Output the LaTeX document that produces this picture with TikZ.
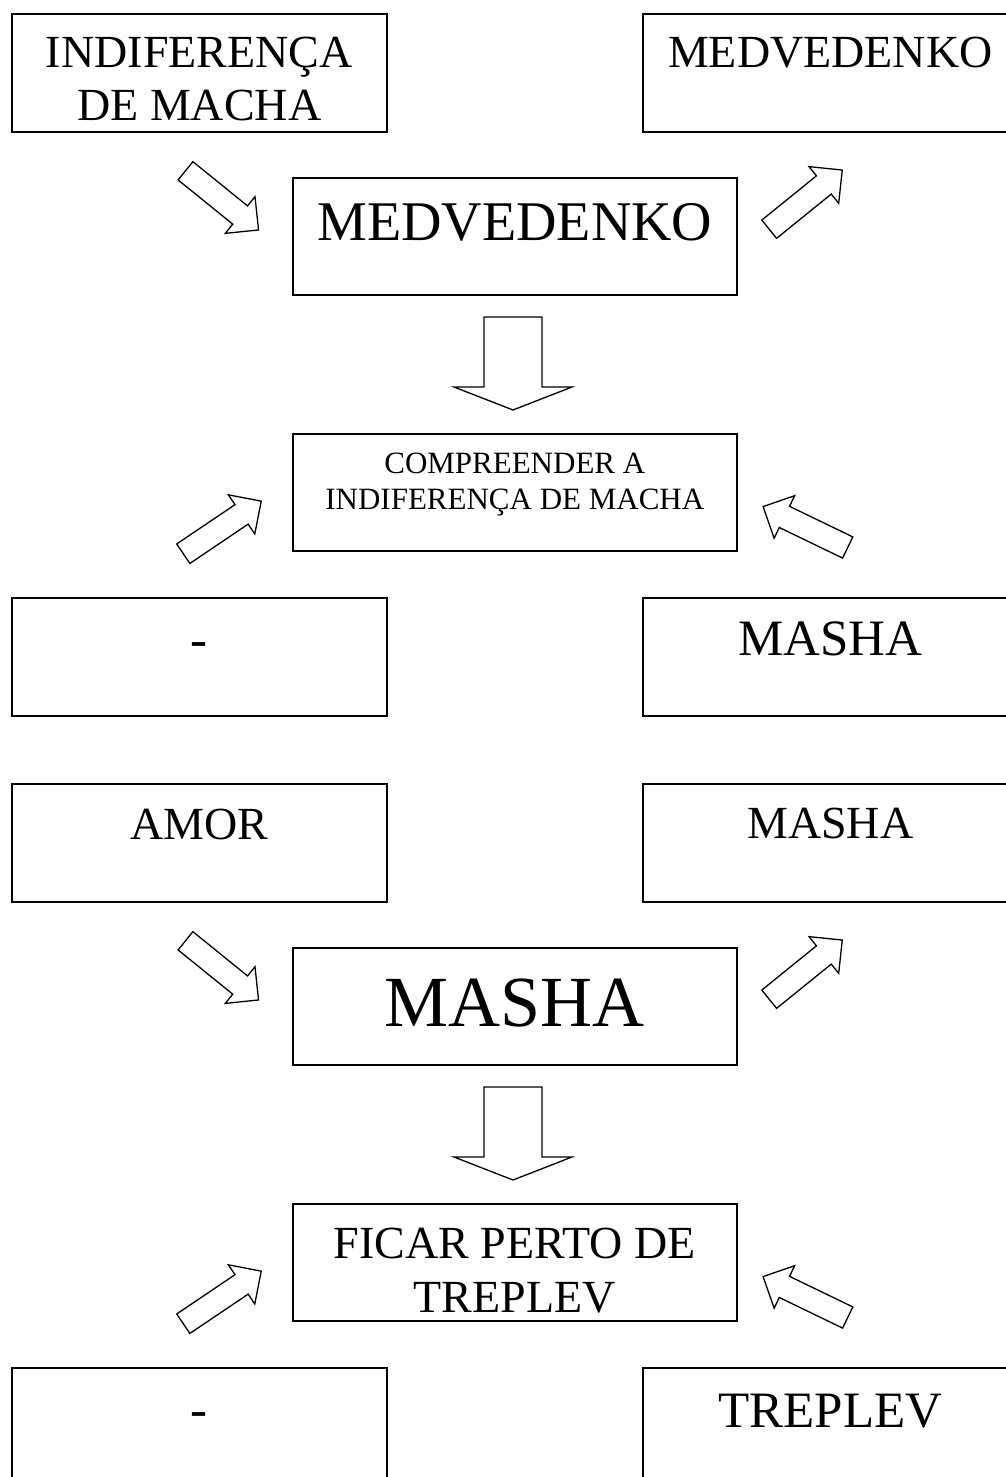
\documentclass[tikz,border=0pt]{standalone}
\usepackage{fontspec}
\setmainfont{Liberation Serif}
\newcommand\fsz[1]{\fontsize{#1}{#1}\selectfont}
\tikzset{
  box/.style={draw, line width=1.6pt, rectangle, inner sep=0pt, anchor=north west},
  sidebox/.style={box, minimum width=375pt, minimum height=118pt},
  midbox/.style={box, minimum width=444pt, minimum height=117pt},
  txt/.style={anchor=base, inner sep=0pt},
  barrowline/.style={draw, line width=1.3pt, line join=miter, fill=white},
}
% #1,#2 tail centre; #3 angle; #4 length; #5 shaft half width; #6 head half width; #7 head length
\newcommand\blockarrow[7]{\draw[barrowline, shift={(#1,#2)}, rotate=#3] (0,-#5) -- ({#4-#7},-#5) -- ({#4-#7},-#6) -- (#4,0) -- ({#4-#7},#6) -- ({#4-#7},#5) -- (0,#5) -- cycle;}
\begin{document}
\begin{tikzpicture}[x=1pt,y=-1pt]
\useasboundingbox[fill=white] (0,0) rectangle (1005,1477);

% ---------- first block ----------
\node[sidebox] (tl1) at (11,13) {};
\node[sidebox] (tr1) at (642,13) {};
\node[midbox]  (c1)  at (292,177) {};
\node[midbox]  (m1)  at (292,433) {};
\node[sidebox] (bl1) at (11,597) {};
\node[sidebox] (br1) at (642,597) {};

\node[txt, font=\fsz{46}] at ([yshift=-55pt]tl1.north) {INDIFERENÇA};
\node[txt, font=\fsz{46}] at ([yshift=-108pt]tl1.north) {DE MACHA};
\node[txt, font=\fsz{46}] at ([yshift=-55pt]tr1.north) {MEDVEDENKO};
\node[txt, font=\fsz{56}] at ([yshift=-63pt]c1.north) {MEDVEDENKO};
\node[txt, font=\fsz{31}] at ([yshift=-40pt]m1.north) {COMPREENDER A};
\node[txt, font=\fsz{31}] at ([yshift=-76pt]m1.north) {INDIFERENÇA DE MACHA};
\node[txt, font=\fsz{51}] at ([yshift=-59pt]bl1.north) {-};
\node[txt, font=\fsz{51}] at ([yshift=-58pt]br1.north) {MASHA};

\blockarrow{185.5}{170.8}{-39}{94}{11.75}{23.6}{23.7}
\blockarrow{769.2}{229.2}{39}{94}{11.75}{23.6}{23.7}
\blockarrow{513}{317}{-90}{93}{29}{59}{23}
\blockarrow{183.3}{553.7}{34}{94}{11.75}{23.6}{23.7}
\blockarrow{847.7}{547.5}{154.2}{94}{11.75}{23.6}{23.7}

% ---------- second block ----------
\node[sidebox] (tl2) at (11,783) {};
\node[sidebox] (tr2) at (642,783) {};
\node[midbox]  (c2)  at (292,947) {};
\node[midbox]  (m2)  at (292,1203) {};
\node[sidebox] (bl2) at (11,1367) {};
\node[sidebox] (br2) at (642,1367) {};

\node[txt, font=\fsz{46}] at ([yshift=-56pt]tl2.north) {AMOR};
\node[txt, font=\fsz{46}] at ([yshift=-55pt]tr2.north) {MASHA};
\node[txt, font=\fsz{72}] at ([yshift=-79pt]c2.north) {MASHA};
\node[txt, font=\fsz{46}] at ([yshift=-55pt]m2.north) {FICAR PERTO DE};
\node[txt, font=\fsz{46}] at ([yshift=-109pt]m2.north) {TREPLEV};
\node[txt, font=\fsz{51}] at ([yshift=-59pt]bl2.north) {-};
\node[txt, font=\fsz{51}] at ([yshift=-60pt]br2.north) {TREPLEV};

\blockarrow{185.5}{940.8}{-39}{94}{11.75}{23.6}{23.7}
\blockarrow{769.2}{999.2}{39}{94}{11.75}{23.6}{23.7}
\blockarrow{513}{1087}{-90}{93}{29}{59}{23}
\blockarrow{183.3}{1323.7}{34}{94}{11.75}{23.6}{23.7}
\blockarrow{847.7}{1317.5}{154.2}{94}{11.75}{23.6}{23.7}
\end{tikzpicture}
\end{document}
